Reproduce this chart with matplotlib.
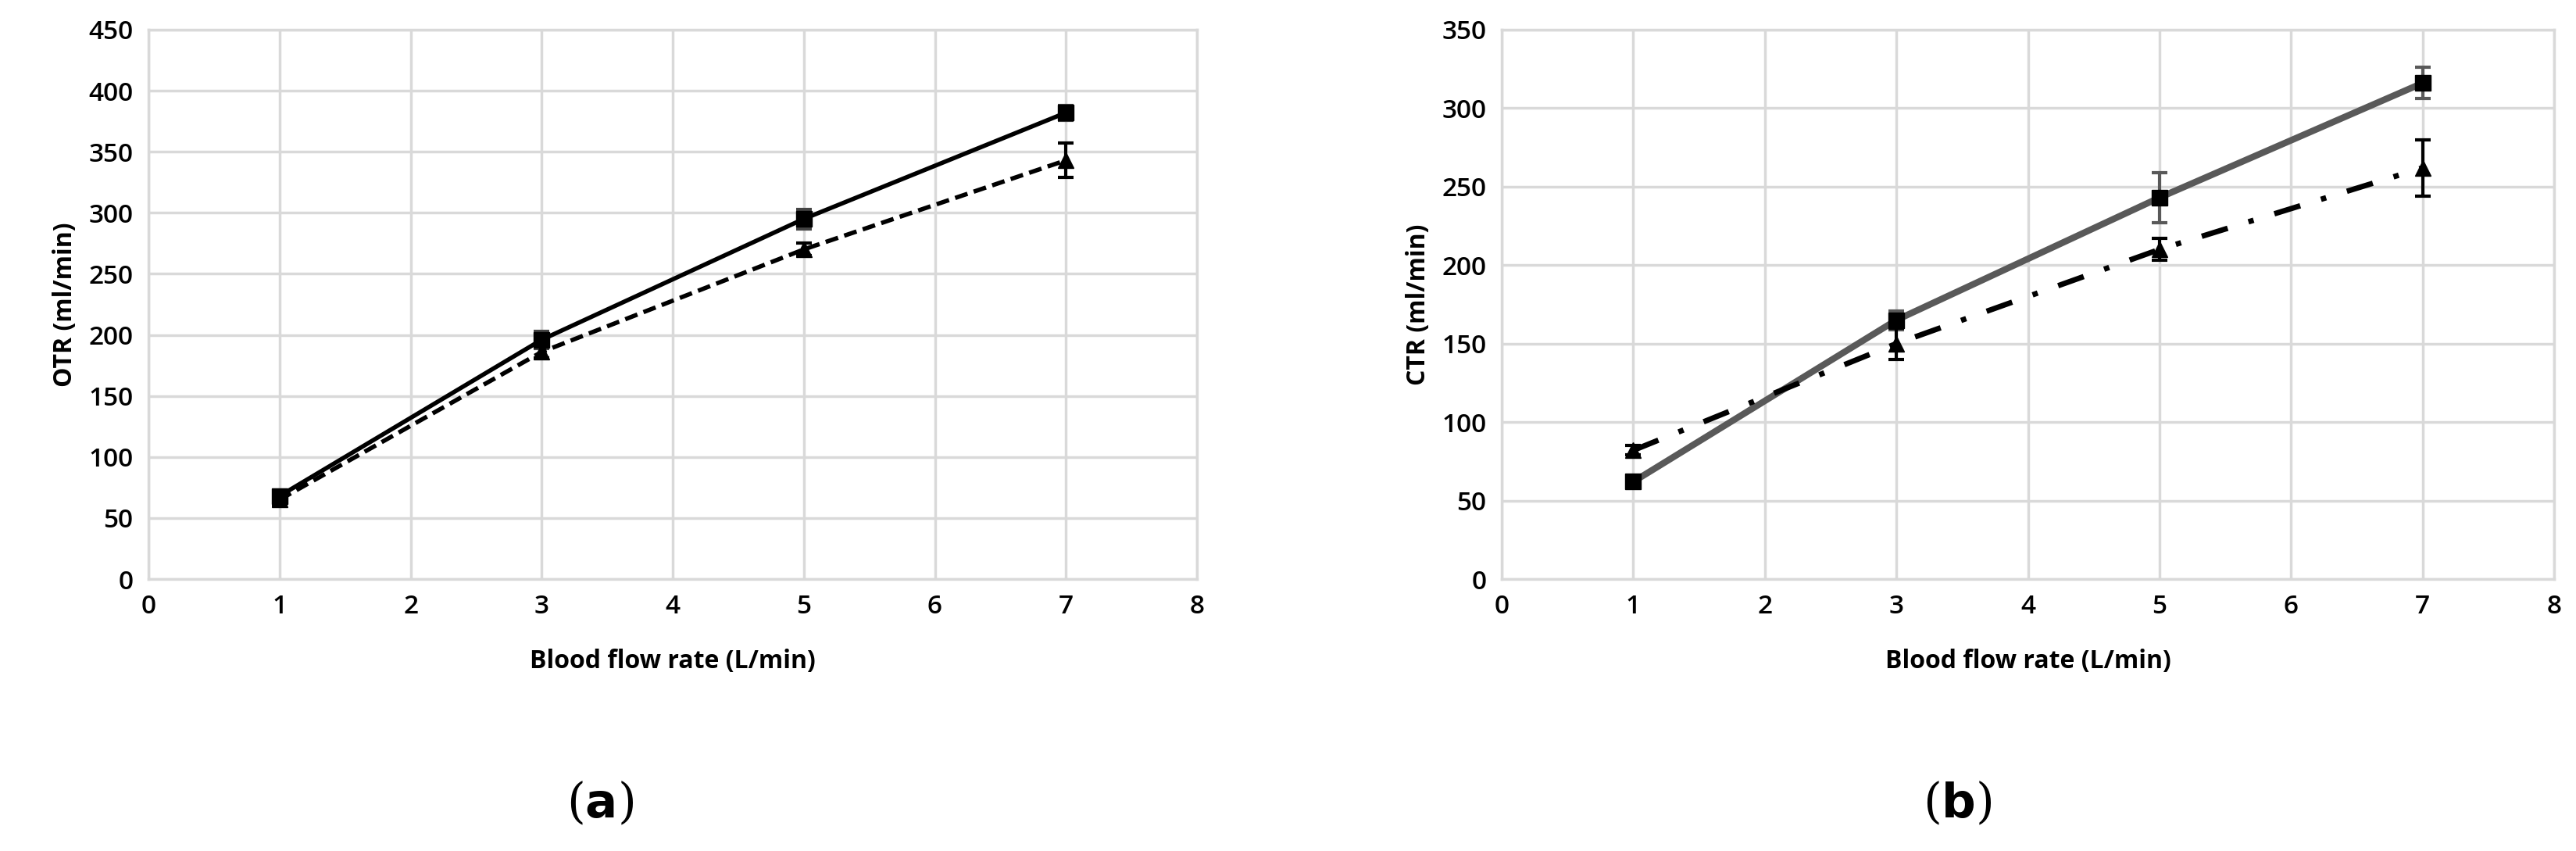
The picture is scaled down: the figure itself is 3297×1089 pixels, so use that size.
import matplotlib

matplotlib.use("Agg")

import matplotlib.pyplot as plt

flow = [1, 3, 5, 7]

# panel (a) OTR
otr_solid = [68, 196, 295, 382]
otr_solid_err = [5, 7, 8, 6]
otr_dash = [65, 186, 270, 343]
otr_dash_err = [5, 5, 5, 14]

# panel (b) CTR
ctr_solid = [62, 165, 243, 316]
ctr_solid_err = [3, 6, 16, 10]
ctr_dash = [82, 150, 210, 262]
ctr_dash_err = [3, 10, 7, 18]

FONT = "Open Sans"
GRID = "#d9d9d9"

fig = plt.figure(figsize=(32.97, 10.89), dpi=100)
W, H = 3297, 1089


def setup(ax, ymax, ylabel):
    ax.set_xlim(0, 8)
    ax.set_ylim(0, ymax)
    ax.set_xticks(range(0, 9))
    ax.set_yticks(range(0, ymax + 1, 50))
    ax.grid(True, color=GRID, linewidth=2.5)
    ax.set_axisbelow(True)
    for s in ax.spines.values():
        s.set_color(GRID)
        s.set_linewidth(2.5)
    ax.tick_params(length=0, labelsize=24, pad=14)
    for lab in ax.get_xticklabels() + ax.get_yticklabels():
        lab.set_fontfamily(FONT)
        lab.set_fontweight("semibold")
    ax.set_xlabel("Blood flow rate (L/min)", fontsize=23, fontfamily=FONT,
                  fontweight="bold", labelpad=26)
    ax.set_ylabel(ylabel, fontsize=23, fontfamily=FONT, fontweight="bold", labelpad=10)


ax1 = fig.add_axes([190 / W, 1 - 741 / H, 1342 / W, 703 / H])
setup(ax1, 450, "OTR (ml/min)")
ax1.errorbar(flow, otr_solid, yerr=otr_solid_err, color="black", lw=4, marker="s",
             ms=14, capsize=7, capthick=3, elinewidth=3, ecolor="#444444")
ax1.errorbar(flow, otr_dash, yerr=otr_dash_err, color="black", lw=4, ls=(0, (3, 1.5)),
             marker="^", ms=14, capsize=7, capthick=3, elinewidth=3)

ax2 = fig.add_axes([1922 / W, 1 - 741 / H, 1347 / W, 703 / H])
setup(ax2, 350, "CTR (ml/min)")
ax2.errorbar(flow, ctr_solid, yerr=ctr_solid_err, color="#595959", lw=6, marker="s",
             ms=14, mfc="black", mec="black", capsize=7, capthick=3, elinewidth=3)
ax2.errorbar(flow, ctr_dash, yerr=ctr_dash_err, color="black", lw=5, ls=(0, (5, 4, 1, 4)),
             marker="^", ms=14, capsize=7, capthick=3, elinewidth=3)

for xc, letter in [(768, "a"), (2505, "b")]:
    fig.text(xc / W, 1 - 1029 / H, f"(${{\\mathbf{{{letter}}}}}$)", fontsize=44,
             family="DejaVu Serif", ha="center", va="center")

fig.savefig("out.png", dpi=100)
